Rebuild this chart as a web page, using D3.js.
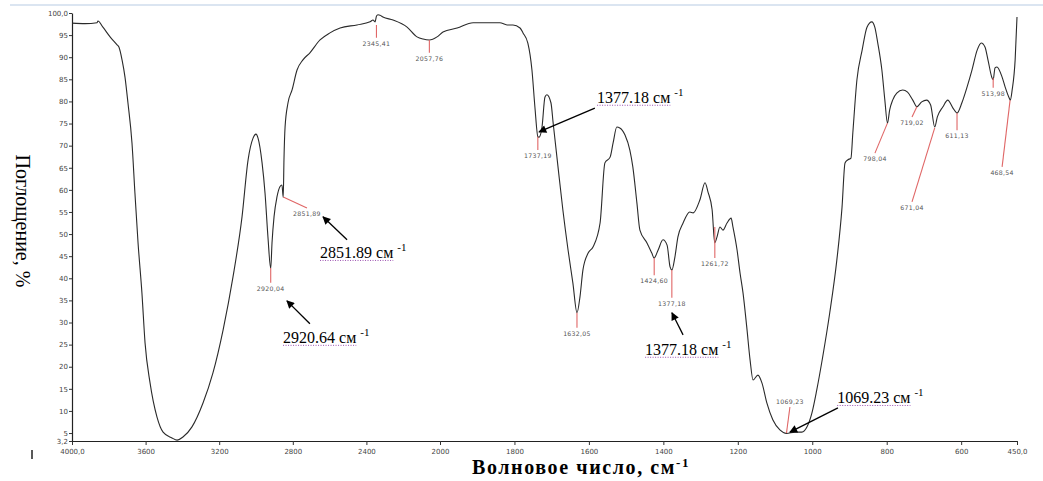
<!DOCTYPE html>
<html><head><meta charset="utf-8">
<script src="https://cdn.jsdelivr.net/npm/d3@7"></script>
<style>
html,body{margin:0;padding:0;background:#fff;}
svg{display:block;}
</style>
</head><body>
<svg id="chart" width="1043" height="481"></svg>
<script>
// ---- data ----
const wavenumbers = [4000,3929,3864,3859,3832,3793,3755,3745,3728,3712,3696,3674,3658,3641,3620,3603,3576,3538,3505,3457,3429,3397,3348,3288,3234,3179,3125,3076,3043,3016,3000,2989,2967,2951,2935,2920,2913,2902,2886,2870,2859,2852,2848,2842,2826,2804,2777,2745,2707,2652,2598,2543,2451,2380,2364,2353,2345,2337,2326,2310,2255,2179,2125,2092,2058,2016,1992,1954,1911,1866,1839,1820,1804,1785,1777,1764,1753,1745,1737,1734,1726,1718,1713,1702,1696,1683,1670,1656,1643,1632,1624,1616,1602,1589,1570,1557,1543,1535,1525,1517,1503,1490,1482,1471,1463,1444,1431,1425,1414,1401,1390,1382,1377,1369,1361,1347,1329,1320,1302,1288,1280,1269,1262,1256,1248,1240,1229,1218,1213,1202,1194,1186,1176,1167,1159,1146,1135,1122,1106,1087,1069,1047,1028,1014,1001,988,972,953,934,920,912,904,896,891,880,866,853,840,832,824,813,805,798,792,784,773,757,744,730,719,706,693,682,671,664,649,636,622,611,598,584,571,557,546,536,528,517,514,509,504,490,482,471,468,463,455,450];
const absorbance  = [97.7,97.6,97.8,98.2,96.8,94.6,92.8,92.3,89.4,85.5,79.7,70.6,59.3,48.0,36.7,25.4,16.4,8.6,5.2,3.9,3.4,4.1,6.4,11.8,18.6,28.3,40.3,53.9,66.8,71.7,72.6,71.7,66.1,59.3,49.3,42.2,48.0,53.9,58.4,60.7,61.1,58.3,66.8,74.2,79.7,82.6,87.1,89.4,91.0,93.9,95.5,96.6,97.3,98.0,98.4,98.0,99.3,99.6,99.5,99.1,98.4,96.8,94.6,94.1,93.9,94.6,95.7,96.6,97.8,97.8,97.8,97.3,97.3,96.6,95.5,93.2,87.1,78.7,72.0,71.9,74.2,81.0,81.5,79.7,75.1,65.2,55.5,46.4,38.9,32.2,35.8,41.9,45.7,47.1,52.5,66.1,67.4,70.6,74.2,74.0,72.4,69.0,65.2,57.0,50.9,48.0,45.7,44.6,46.4,48.7,47.5,42.6,41.9,44.8,49.3,52.5,55.0,54.8,57.7,61.6,59.5,55.5,48.0,49.3,51.6,50.9,52.5,53.6,51.6,46.4,41.2,36.7,29.0,21.5,17.0,18.1,16.3,11.8,8.0,5.7,4.9,5.2,5.2,6.4,9.5,14.7,22.2,32.2,44.1,56.1,66.1,66.8,67.2,72.9,84.9,91.6,96.8,98.0,96.8,93.2,87.1,80.3,75.1,78.1,80.3,81.9,82.6,82.1,80.3,78.8,79.9,80.3,79.2,74.2,76.5,78.8,80.3,78.5,77.4,79.7,83.3,87.1,91.6,93.2,92.3,89.4,85.3,84.9,87.6,87.8,85.5,83.3,80.8,80.3,82.6,89.4,99.1];

const xTickValues = [4000,3600,3200,2800,2400,2000,1800,1600,1400,1200,1000,800,600,450];
const xTickLabels = ["4000,0","3600","3200","2800","2400","2000","1800","1600","1400","1200","1000","800","600","450,0"];
const yTickValues = [100,95,90,85,80,75,70,65,60,55,50,45,40,35,30,25,20,15,10,5,3.2];
const yTickLabels = ["100,0","95","90","85","80","75","70","65","60","55","50","45","40","35","30","25","20","15","10","5","3,2"];

// peak markers: peak position, end of red leader (data units), label text
const peakWn     = [2920.04,2851.89,2345.41,2057.76,1737.19,1632.05,1424.60,1377.18,1261.72,1069.23,798.04,719.02,671.04,611.13,513.98,468.54];
const peakVal    = [42.3,58.4,97.3,93.9,72.0,32.2,44.6,41.9,51.6,5.0,75.1,78.8,74.0,77.4,85.3,80.3];
const peakEndWn  = [2920.04,2723,2345.41,2057.76,1737.19,1632.05,1424.60,1377.18,1261.72,1060,831.6,732,732,611.13,513.98,490];
const peakEndVal = [39.0,55.9,94.4,91.0,69.0,28.8,40.7,35.6,44.6,10.9,68.3,76.5,57.3,73.5,83.1,65.2];
const peakText   = ["2920,04","2851,89","2345,41","2057,76","1737,19","1632,05","1424,60","1377,18","1261,72","1069,23","798,04","719,02","671,04","611,13","513,98","468,54"];

// callouts: text, text anchor, arrow tail and arrow tip (data units)
const calloutText   = ["2851.89 см","2920.64 см","1377.18 см","1377.18 см","1069.23 см"];
const calloutWn     = [2652,2853,1578,1449,933];
const calloutVal    = [44.6,25.4,79.7,22.7,11.8];
const arrowTailWn   = [2505,2707,1584,1347,931];
const arrowTailVal  = [48.7,29.7,78.5,27.2,10.7];
const arrowTipWn    = [2636,2832,1734,1377,1060];
const arrowTipVal   = [53.9,34.9,73.1,32.2,5.2];

// ---- drawing ----
const svg = d3.select("#chart");
const x = d3.scaleLinear().domain([4000,2000,450]).range([72,440,1017]);
const y = d3.scaleLinear().domain([3.2,100]).range([441,13]);

// top light-blue rule
svg.append("line").attr("x1",10).attr("x2",1043).attr("y1",5).attr("y2",5)
  .attr("stroke","#dbe5f1").attr("stroke-width",2);

// defs arrowhead
svg.append("defs").append("marker").attr("id","ah")
  .attr("viewBox","0 0 10 10").attr("refX",9).attr("refY",5)
  .attr("markerWidth",11).attr("markerHeight",8).attr("markerUnits","userSpaceOnUse")
  .attr("orient","auto")
  .append("path").attr("d","M0,0 L10,5 L0,10 z").attr("fill","#000");

// axes
const xAxis = d3.axisBottom(x).tickValues(xTickValues)
  .tickFormat((d,i)=>xTickLabels[i]).tickSize(4).tickSizeOuter(0);
const gx = svg.append("g").attr("transform","translate(0,441)").call(xAxis);
const yAxis = d3.axisLeft(y).tickValues(yTickValues)
  .tickFormat((d,i)=>yTickLabels[i]).tickSize(3).tickSizeOuter(0);
const gy = svg.append("g").attr("transform","translate(72,0)").call(yAxis);
[gx,gy].forEach(g=>{
  g.select(".domain").attr("stroke","#222").attr("stroke-width",1.2);
  g.selectAll(".tick line").attr("stroke","#333");
  g.selectAll(".tick text").attr("fill","#444")
    .style("font-family","DejaVu Sans").style("font-size","7px");
});
gx.selectAll(".tick text").attr("dy","0.9em");
gy.selectAll(".tick text").attr("x",-4);

// spectrum line
const pts = wavenumbers.map((w,i)=>[w,absorbance[i]]);
svg.append("path").datum(pts)
  .attr("fill","none").attr("stroke","#2a2a2a").attr("stroke-width",1.1)
  .attr("stroke-linejoin","round")
  .attr("d", d3.line().x(d=>x(d[0])).y(d=>y(d[1])).curve(d3.curveMonotoneX));

// peak leaders and labels
peakWn.forEach((w,i)=>{
  const x1=x(w), y1=y(peakVal[i]), x2=x(peakEndWn[i]), y2=y(peakEndVal[i]);
  svg.append("line").attr("x1",x1).attr("y1",y1).attr("x2",x2).attr("y2",y2)
    .attr("stroke","#e06666").attr("stroke-width",1.1);
  const below = y2>y1;
  svg.append("text").attr("x",x2).attr("y", below? y2+8 : y2-3)
    .attr("text-anchor","middle").attr("fill","#555")
    .style("font-family","DejaVu Sans").style("font-size","6.2px")
    .style("letter-spacing","0.3px")
    .text(peakText[i]);
});

// callouts
calloutText.forEach((t,i)=>{
  svg.append("line")
    .attr("x1",x(arrowTailWn[i])).attr("y1",y(arrowTailVal[i]))
    .attr("x2",x(arrowTipWn[i])).attr("y2",y(arrowTipVal[i]))
    .attr("stroke","#000").attr("stroke-width",1.3).attr("marker-end","url(#ah)");
  const tx=x(calloutWn[i]), ty=y(calloutVal[i]);
  const txt = svg.append("text").attr("x",tx).attr("y",ty)
    .attr("fill","#000").style("font-family","Liberation Serif").style("font-size","16px");
  txt.append("tspan").text(t);
  txt.append("tspan").attr("dx",4).attr("dy",-7).style("font-size","11px").text("-1");
  const w = txt.select("tspan").node().getComputedTextLength();
  svg.append("line").attr("x1",tx).attr("x2",tx+w).attr("y1",ty+2.5).attr("y2",ty+2.5)
    .attr("stroke","#9b4fb0").attr("stroke-width",1).attr("stroke-dasharray","1,1.5");
});

// axis titles
svg.append("text").attr("transform","translate(16,221) rotate(90)")
  .attr("text-anchor","middle").attr("fill","#000")
  .style("font-family","Liberation Serif").style("font-size","20px")
  .text("Поглощение, %");
const xt = svg.append("text").attr("x",472).attr("y",474).attr("fill","#000")
  .style("font-family","Liberation Serif").style("font-size","20px").style("font-weight","bold")
  .style("letter-spacing","1.6px");
xt.append("tspan").text("Волновое число, см");
xt.append("tspan").attr("dy",-7).style("font-size","13px").text("-1");

// small cursor mark bottom-left
svg.append("line").attr("x1",32).attr("x2",32).attr("y1",450).attr("y2",459)
  .attr("stroke","#222").attr("stroke-width",1.5);
</script>
</body></html>
